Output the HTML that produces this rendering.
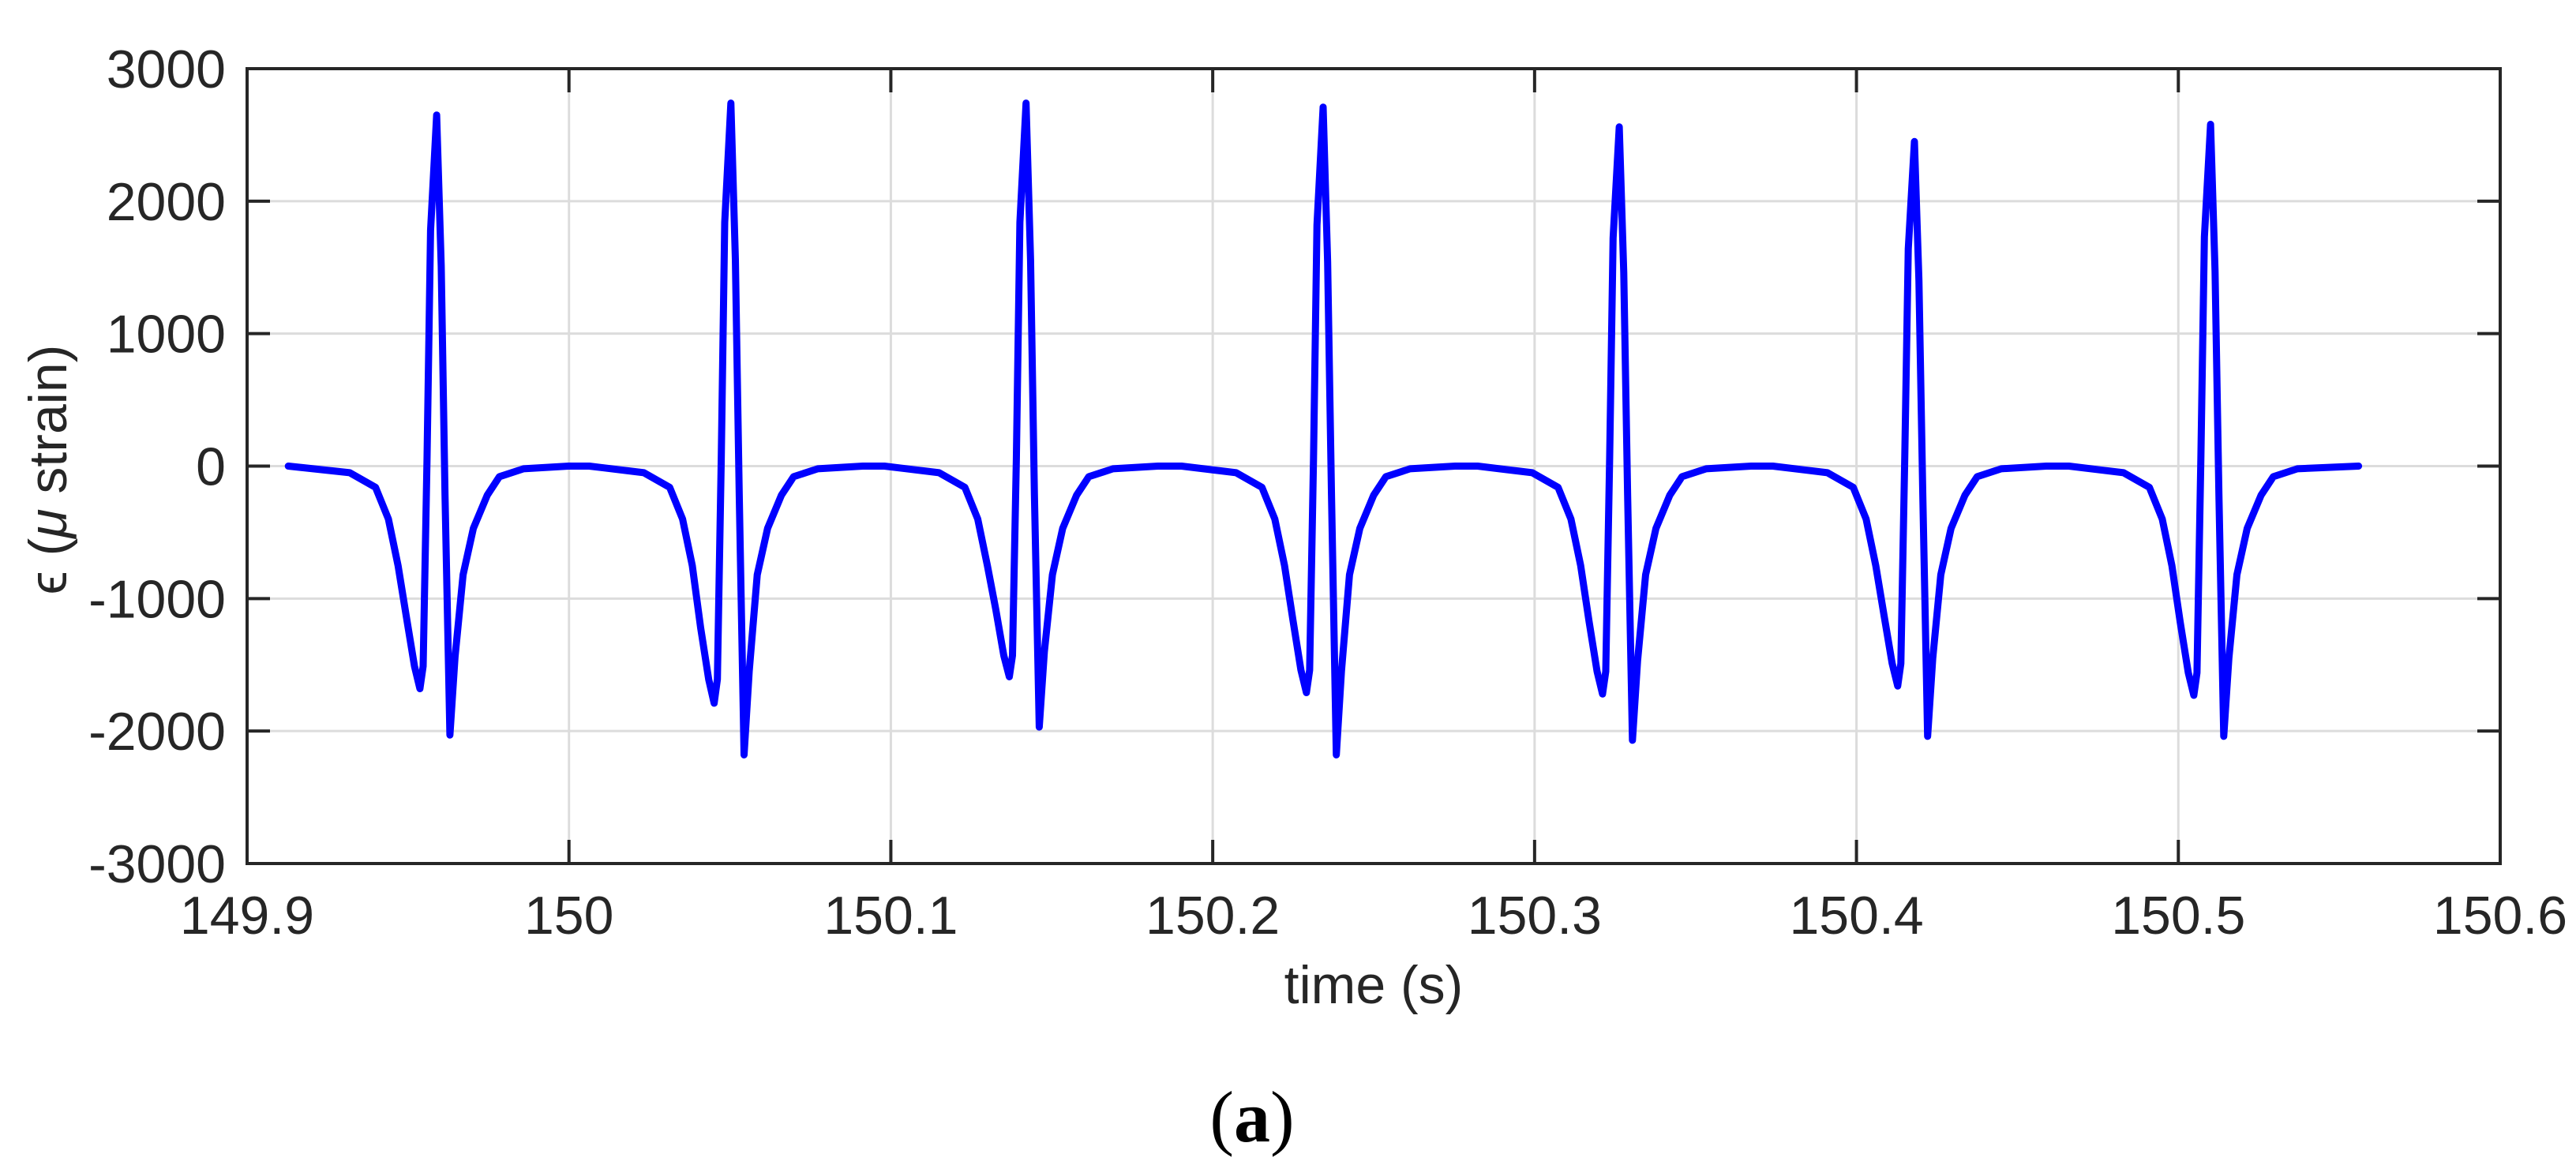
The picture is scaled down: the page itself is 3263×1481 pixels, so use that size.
<!DOCTYPE html>
<html><head><meta charset="utf-8"><style>
html,body{margin:0;padding:0;background:#fff;}
svg{display:block;}
text{font-family:"Liberation Sans",Arial,sans-serif;fill:#262626;}
</style></head>
<body>
<svg id="chart" width="3263" height="1481" viewBox="0 0 3263 1481" xmlns="http://www.w3.org/2000/svg">
<g id="grid"></g>
<g id="series"></g>
<g id="axes"></g>
<text x="1740" y="1271" font-size="68" text-anchor="middle">time (s)</text>
<text transform="translate(84,595) rotate(-90)" font-size="68" text-anchor="middle">ϵ (<tspan font-style="italic">μ</tspan> strain)</text>
<text x="1586" y="1446" font-size="92" text-anchor="middle" style="font-family:'Liberation Serif',serif;fill:#000">(<tspan font-weight="bold">a</tspan>)</text>
</svg>
<script>
const xTicks = [149.9, 150, 150.1, 150.2, 150.3, 150.4, 150.5, 150.6];
const xTickLabels = ["149.9", "150", "150.1", "150.2", "150.3", "150.4", "150.5", "150.6"];
const yTicks = [-3000, -2000, -1000, 0, 1000, 2000, 3000];
const yTickLabels = ["-3000", "-2000", "-1000", "0", "1000", "2000", "3000"];
const times = [
149.9128,149.9319,149.9399,149.9439,149.9469,149.9495,149.9520,149.9537,149.9547,149.9559,149.9570,149.9589,149.9603,149.9615,149.9630,149.9646,149.9671,149.9703,149.9746,149.9784,149.9859,149.9999,
150.0063,150.0233,150.0313,150.0353,150.0383,150.0409,150.0434,150.0451,150.0461,150.0473,150.0484,150.0503,150.0517,150.0529,150.0544,150.0560,150.0585,150.0617,150.0660,150.0698,150.0773,150.0913,
150.0980,150.1150,150.1230,150.1270,150.1300,150.1326,150.1351,150.1368,150.1378,150.1390,150.1401,150.1420,150.1434,150.1446,150.1461,150.1477,150.1502,150.1534,150.1577,150.1615,150.1690,150.1830,
150.1903,150.2073,150.2153,150.2193,150.2223,150.2249,150.2274,150.2291,150.2301,150.2313,150.2324,150.2343,150.2357,150.2369,150.2384,150.2400,150.2425,150.2457,150.2500,150.2538,150.2613,150.2753,
150.2823,150.2993,150.3073,150.3113,150.3143,150.3169,150.3194,150.3211,150.3221,150.3233,150.3244,150.3263,150.3277,150.3289,150.3304,150.3320,150.3345,150.3377,150.3420,150.3458,150.3533,150.3673,
150.3740,150.3910,150.3990,150.4030,150.4060,150.4086,150.4111,150.4128,150.4138,150.4150,150.4161,150.4180,150.4194,150.4206,150.4221,150.4237,150.4262,150.4294,150.4337,150.4375,150.4450,150.4590,
150.4660,150.4830,150.4910,150.4950,150.4980,150.5006,150.5031,150.5048,150.5058,150.5070,150.5081,150.5100,150.5114,150.5126,150.5141,150.5157,150.5182,150.5214,150.5257,150.5295,150.5370,150.5560
];
const strain = [
0,-50,-160,-400,-750,-1140,-1510,-1680,-1510,50,1780,2650,1510,-220,-2030,-1440,-820,-470,-220,-80,-20,0,
0,-50,-160,-400,-750,-1220,-1610,-1790,-1610,50,1840,2740,1560,-220,-2180,-1550,-820,-470,-220,-80,-20,0,
0,-50,-160,-400,-750,-1080,-1430,-1590,-1430,50,1840,2740,1560,-220,-1970,-1400,-820,-470,-220,-80,-20,0,
0,-50,-160,-400,-750,-1160,-1540,-1710,-1540,50,1820,2710,1540,-220,-2180,-1550,-820,-470,-220,-80,-20,0,
0,-50,-160,-400,-750,-1170,-1550,-1720,-1550,50,1720,2560,1460,-220,-2070,-1470,-820,-470,-220,-80,-20,0,
0,-50,-160,-400,-750,-1130,-1490,-1660,-1490,50,1640,2450,1400,-220,-2040,-1450,-820,-470,-220,-80,-20,0,
0,-50,-160,-400,-750,-1180,-1560,-1730,-1560,50,1730,2580,1470,-220,-2040,-1450,-820,-470,-220,-80,-20,0
];
const NS = "http://www.w3.org/2000/svg";
const L = 313, R = 3167, T = 87, B = 1094;
const xMin = 149.9, xMax = 150.6, yMin = -3000, yMax = 3000;
function xs(v){ return L + (v - xMin) / (xMax - xMin) * (R - L); }
function ys(v){ return B - (v - yMin) / (yMax - yMin) * (B - T); }
function mk(tag, attrs, parent){ const e = document.createElementNS(NS, tag); for (const k in attrs) e.setAttribute(k, attrs[k]); parent.appendChild(e); return e; }
const grid = document.getElementById('grid'), axes = document.getElementById('axes'), series = document.getElementById('series');
xTicks.forEach((t, i) => {
  const x = xs(t);
  if (i > 0 && i < xTicks.length - 1) {
    const g = mk('line', {x1:x, x2:x, y1:T, y2:B, stroke:'#dcdcdc', 'stroke-width':3}, grid);
    
    
  }
  const tk = mk('path', {d:`M${x},${B}v-30M${x},${T}v30`, stroke:'#262626', 'stroke-width':4}, axes);
  
  
  const lb = mk('text', {x:x, y:1183, 'font-size':68, 'text-anchor':'middle'}, axes);
  lb.textContent = xTickLabels[i];
  
  
});
yTicks.forEach((t, i) => {
  const y = ys(t);
  if (i > 0 && i < yTicks.length - 1) {
    const g = mk('line', {x1:L, x2:R, y1:y, y2:y, stroke:'#dcdcdc', 'stroke-width':3}, grid);
    
    
  }
  const tk = mk('path', {d:`M${L},${y}h29M${R},${y}h-29`, stroke:'#262626', 'stroke-width':4}, axes);
  
  
  const lb = mk('text', {x:286, y:y + 24, 'font-size':68, 'text-anchor':'end'}, axes);
  lb.textContent = yTickLabels[i];
  
  
});
const box = mk('rect', {x:L, y:T, width:R - L, height:B - T, fill:'none', stroke:'#262626', 'stroke-width':4}, axes);


const pts = times.map((t, i) => xs(t).toFixed(1) + ',' + ys(strain[i]).toFixed(1)).join(' ');
const line = mk('polyline', {points:pts, fill:'none', stroke:'#0000ff', 'stroke-width':9, 'stroke-linejoin':'round', 'stroke-linecap':'round'}, series);


</script>
</body></html>
